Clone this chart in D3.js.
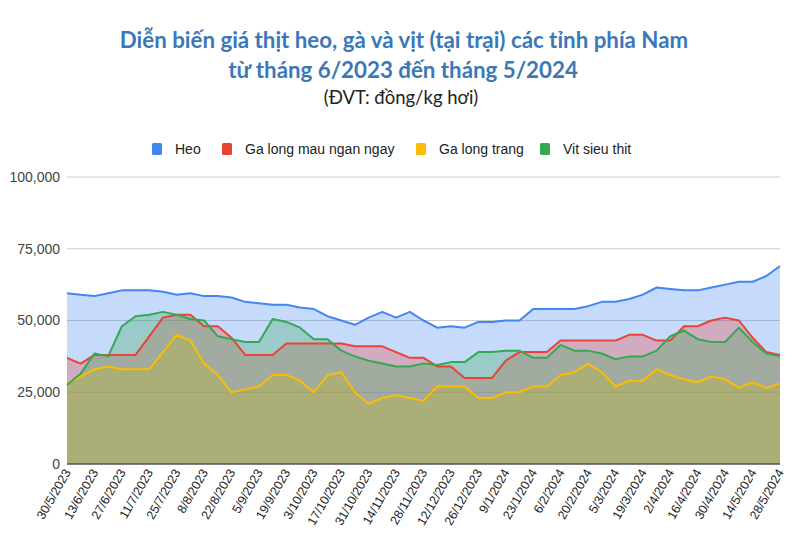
<!DOCTYPE html>
<html><head><meta charset="utf-8">
<script src="https://cdn.jsdelivr.net/npm/d3@7/dist/d3.min.js"></script>
<style>body{margin:0;background:#fff}svg{display:block}</style>
</head><body>
<svg id="c" width="800" height="543"></svg>
<script>
const dates = ["30/5/2023","6/6/2023","13/6/2023","20/6/2023","27/6/2023","4/7/2023","11/7/2023","18/7/2023","25/7/2023","1/8/2023","8/8/2023","15/8/2023","22/8/2023","29/8/2023","5/9/2023","12/9/2023","19/9/2023","26/9/2023","3/10/2023","10/10/2023","17/10/2023","24/10/2023","31/10/2023","7/11/2023","14/11/2023","21/11/2023","28/11/2023","5/12/2023","12/12/2023","19/12/2023","26/12/2023","2/1/2024","9/1/2024","16/1/2024","23/1/2024","30/1/2024","6/2/2024","13/2/2024","20/2/2024","27/2/2024","5/3/2024","12/3/2024","19/3/2024","26/3/2024","2/4/2024","9/4/2024","16/4/2024","23/4/2024","30/4/2024","7/5/2024","14/5/2024","21/5/2024","28/5/2024"];
const heo = [59500,59000,58500,59500,60500,60500,60500,60000,59000,59500,58500,58500,58000,56500,56000,55500,55500,54500,54000,51500,50000,48500,51000,53000,51000,53000,50000,47500,48000,47500,49500,49500,50000,50000,54000,54000,54000,54000,55000,56500,56500,57500,59000,61500,61000,60500,60500,61500,62500,63500,63500,65500,69000];
const gaMau = [37000,35000,38000,38000,38000,38000,44500,51000,52000,52000,48000,48000,44000,38000,38000,38000,42000,42000,42000,42000,42000,41000,41000,41000,39000,37000,37000,34000,34000,30000,30000,30000,36000,39000,39000,39000,43000,43000,43000,43000,43000,45000,45000,43000,43000,48000,48000,50000,51000,50000,44000,39000,38000];
const gaTrang = [28000,30500,33000,34000,33000,33000,33000,39000,45000,43000,35000,31000,25000,26000,27000,31000,31000,29000,25000,31000,32000,25000,21000,23000,24000,23000,22000,27000,27000,27000,23000,23000,25000,25000,27000,27000,31000,32000,35000,32000,27000,29000,29000,33000,31000,29500,28500,30500,29500,26500,28500,26500,28000];
const vit = [27500,31500,38500,37500,48000,51500,52000,53000,52000,50500,50000,44500,43500,42500,42500,50500,49500,47500,43500,43500,39500,37500,36000,35000,34000,34000,35000,34500,35500,35500,39000,39000,39500,39500,37000,37000,41500,39500,39500,38500,36500,37500,37500,39500,44500,46500,43500,42500,42500,47500,42500,38500,37500];
const yTicks = [0,25000,50000,75000,100000];
const seriesNames = ["Heo","Ga long mau ngan ngay","Ga long trang","Vit sieu thit"];
const colors = ["#4285F4","#EA4335","#FBBC04","#34A853"];
const seriesData = [heo, gaMau, gaTrang, vit];

const svg = d3.select("#c");
const x = d3.scalePoint().domain(dates).range([67,780]);
const y = d3.scaleLinear().domain([0,100000]).range([464,177]);

// titles
svg.append("text").attr("x",404).attr("y",48).attr("text-anchor","middle")
  .attr("font-family","Lato").attr("font-weight","bold").attr("font-size",22.3).attr("fill","#3a78b8")
  .text("Diễn biến giá thịt heo, gà và vịt (tại trại) các tỉnh phía Nam");
svg.append("text").attr("x",403).attr("y",78).attr("text-anchor","middle")
  .attr("font-family","Lato").attr("font-weight","bold").attr("font-size",22.3).attr("fill","#3a78b8")
  .text("từ tháng 6/2023 đến tháng 5/2024");
svg.append("text").attr("x",401).attr("y",104).attr("text-anchor","middle")
  .attr("font-family","Lato").attr("font-size",18.5).attr("fill","#222")
  .text("(ĐVT: đồng/kg hơi)");

// gridlines
const g = svg.append("g");
g.selectAll("line.grid").data(yTicks.filter(d=>d>0)).join("line")
  .attr("x1",67).attr("x2",780).attr("y1",d=>y(d)).attr("y2",d=>y(d))
  .attr("stroke","#cccccc").attr("stroke-width",1);

// y labels
const yAxis = d3.axisLeft(y).tickValues(yTicks).tickFormat(d3.format(",")).tickSize(0).tickPadding(7);
const ya = svg.append("g").attr("transform","translate(67,0)").call(yAxis);
ya.select(".domain").remove();
ya.selectAll("text").attr("font-family","Liberation Sans, Arial").attr("font-size",14).attr("fill","#444");

// areas
const area = d3.area().x((d,i)=>x(dates[i])).y0(y(0)).y1(d=>y(d));
const line = d3.line().x((d,i)=>x(dates[i])).y(d=>y(d));
seriesData.forEach((s,k)=>{
  svg.append("path").attr("d",area(s)).attr("fill",colors[k]).attr("fill-opacity",0.3);
});
seriesData.forEach((s,k)=>{
  svg.append("path").attr("d",line(s)).attr("fill","none").attr("stroke",colors[k])
    .attr("stroke-width",2).attr("stroke-linejoin","round");
});

// baseline
svg.append("line").attr("x1",67).attr("x2",780).attr("y1",y(0)).attr("y2",y(0))
  .attr("stroke","#555").attr("stroke-width",1.5);

// x axis
const xAxis = d3.axisBottom(x).tickValues(dates.filter((d,i)=>i%2===0)).tickSize(0).tickPadding(0);
const xa = svg.append("g").attr("transform","translate(0,"+(y(0)+6)+")").call(xAxis);
xa.select(".domain").remove();
xa.selectAll("text").attr("font-family","Liberation Sans, Arial").attr("font-size",12.5).attr("fill","#222")
  .attr("text-anchor","end").attr("dy","0.35em").attr("transform","rotate(-60)").attr("x",0).attr("y",0);

// legend
const legX = [152,222,416,540];
const lg = svg.append("g");
seriesNames.forEach((n,k)=>{
  lg.append("rect").attr("x",legX[k]).attr("y",143).attr("width",10).attr("height",12).attr("rx",1.5)
    .attr("fill",colors[k]);
  lg.append("text").attr("x",legX[k]+23).attr("y",149).attr("dy","0.35em")
    .attr("font-family","Liberation Sans, Arial").attr("font-size",14).attr("fill","#222").text(n);
});
</script>
</body></html>
